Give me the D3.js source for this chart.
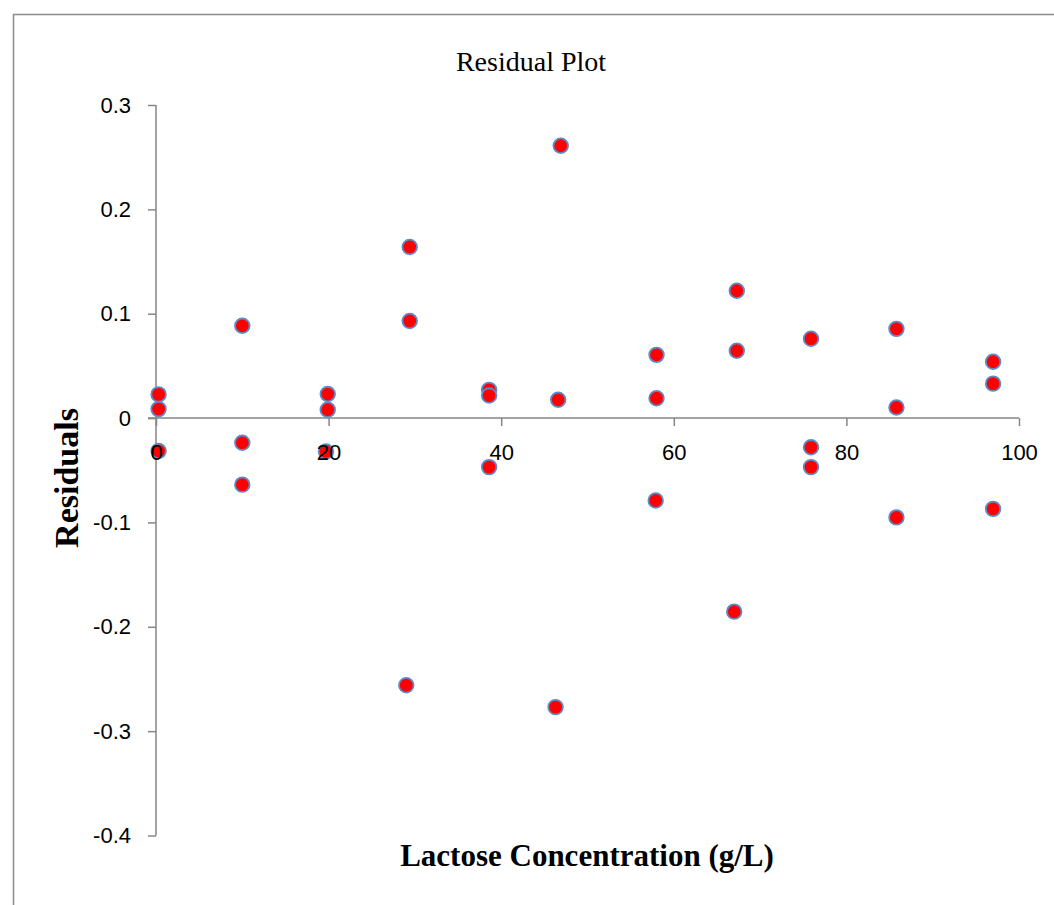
<!DOCTYPE html>
<html>
<head>
<meta charset="utf-8">
<script src="https://cdn.jsdelivr.net/npm/d3@7"></script>
<style>
  html, body { margin: 0; padding: 0; background: #fff; }
  svg { display: block; }
</style>
</head>
<body>
<svg id="chart" width="1054" height="905"></svg>
<script>
// ---- data ----
const concentrations = [0.3, 0.3, 0.3, 10.0, 10.0, 10.0, 19.9, 19.9, 19.7, 29.4, 29.4, 29.0,
  38.6, 38.6, 38.6, 46.9, 46.6, 46.3, 58.0, 58.0, 57.9, 67.3, 67.3, 67.0,
  75.9, 75.9, 75.9, 85.8, 85.8, 85.8, 97.0, 97.0, 97.0];
const residuals = [0.0227, 0.0086, -0.0316, 0.0884, -0.0237, -0.0638, 0.0230, 0.0080, -0.0320,
  0.164, 0.093, -0.256, 0.0270, 0.0216, -0.0470, 0.261, 0.0175, -0.277,
  0.0606, 0.0190, -0.079, 0.122, 0.0645, -0.1855, 0.076, -0.028, -0.047,
  0.0855, 0.0102, -0.0952, 0.054, 0.033, -0.087];
const xTickValues = [0, 20, 40, 60, 80, 100];
const xTickLabels = ["0", "20", "40", "60", "80", "100"];
const yTickValues = [-0.4, -0.3, -0.2, -0.1, 0, 0.1, 0.2, 0.3];
const yTickLabels = ["-0.4", "-0.3", "-0.2", "-0.1", "0", "0.1", "0.2", "0.3"];
const chartTitle = "Residual Plot";
const xTitle = "Lactose Concentration (g/L)";
const yTitle = "Residuals";

// ---- layout ----
const svg = d3.select("#chart");
const axisColor = "#868686";
const tickFont = "'Liberation Sans', Arial, sans-serif";
const titleFont = "'Liberation Serif', 'Times New Roman', serif";
const x = d3.scaleLinear().domain([0, 100]).range([156, 1019]);
const y = d3.scaleLinear().domain([-0.4, 0.3]).range([835.5, 105]);

// frame
svg.append("path")
  .attr("d", "M13.5,905 L13.5,14.5 L1054,14.5")
  .attr("fill", "none").attr("stroke", "#8c8c8c").attr("stroke-width", 1.5);

// title
svg.append("text").attr("x", 531).attr("y", 71)
  .attr("text-anchor", "middle")
  .style("font-family", titleFont)
  .style("font-size", "28px").text(chartTitle);

// y axis
const yAxis = svg.append("g").attr("transform", `translate(${x(0)},0)`)
  .call(d3.axisLeft(y).tickValues(yTickValues).tickSize(8).tickPadding(17)
    .tickFormat((d, i) => yTickLabels[i]));
yAxis.select(".domain").attr("stroke", axisColor).attr("stroke-width", 1.5)
  .attr("d", `M0,${y(-0.4)}V${y(0.3)}`);
yAxis.selectAll(".tick line").attr("stroke", axisColor).attr("stroke-width", 1.5);
yAxis.selectAll(".tick text")
  .style("font-family", tickFont)
  .style("font-size", "22px").attr("fill", "#000");

// points
svg.append("g").selectAll("circle")
  .data(concentrations.map((c, i) => ({ c, r: residuals[i] })))
  .join("circle")
  .attr("cx", d => x(d.c)).attr("cy", d => y(d.r)).attr("r", 7.3)
  .attr("fill", "#ff0000").attr("stroke", "#5b8bc9").attr("stroke-width", 1.8);

// x axis (drawn above points so labels overlay markers)
const xAxis = svg.append("g").attr("transform", `translate(0,${y(0)})`)
  .call(d3.axisBottom(x).tickValues(xTickValues).tickSize(8).tickPadding(18)
    .tickFormat((d, i) => xTickLabels[i]));
xAxis.select(".domain").attr("stroke", axisColor).attr("stroke-width", 1.5)
  .attr("d", `M${x(0) - 8},0H${x(100)}`);
xAxis.selectAll(".tick line").attr("stroke", axisColor).attr("stroke-width", 1.5);
xAxis.selectAll(".tick text")
  .style("font-family", tickFont)
  .style("font-size", "22px").attr("fill", "#000");

// axis titles
svg.append("text").attr("x", 587).attr("y", 866)
  .attr("text-anchor", "middle")
  .style("font-family", titleFont)
  .style("font-size", "31px").style("font-weight", "bold").text(xTitle);

svg.append("text")
  .attr("transform", "translate(78,478) rotate(-90)")
  .attr("text-anchor", "middle")
  .style("font-family", titleFont)
  .style("font-size", "34px").style("font-weight", "bold").text(yTitle);
</script>
</body>
</html>
